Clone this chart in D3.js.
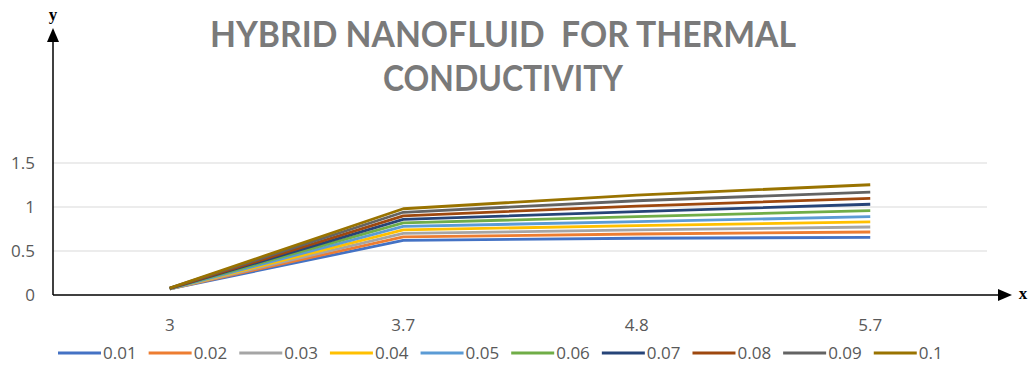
<!DOCTYPE html>
<html>
<head>
<meta charset="utf-8">
<script src="https://cdn.jsdelivr.net/npm/d3@7"></script>
<style>
  html, body { margin: 0; padding: 0; background: #fff; }
  svg { display: block; }
  .title { white-space: pre; }
</style>
</head>
<body>
<svg id="chart" width="1036" height="373"></svg>
<script>
// Categories along the x axis
const categories = ["3", "3.7", "4.8", "5.7"];
// Series names (legend labels)
const seriesNames = ["0.01", "0.02", "0.03", "0.04", "0.05", "0.06", "0.07", "0.08", "0.09", "0.1"];
// Values of each series at each category
const s001 = [0.07, 0.62, 0.645, 0.655];
const s002 = [0.07, 0.66, 0.693, 0.716];
const s003 = [0.07, 0.70, 0.739, 0.773];
const s004 = [0.07, 0.74, 0.788, 0.830];
const s005 = [0.07, 0.78, 0.833, 0.890];
const s006 = [0.075, 0.82, 0.890, 0.958];
const s007 = [0.075, 0.86, 0.947, 1.031];
const s008 = [0.075, 0.90, 1.011, 1.099];
const s009 = [0.08, 0.94, 1.071, 1.170];
const s010 = [0.08, 0.98, 1.136, 1.253];
const seriesValues = [s001, s002, s003, s004, s005, s006, s007, s008, s009, s010];
// Y axis tick labels
const yTicks = [0, 0.5, 1, 1.5];
const titleLines = ["HYBRID NANOFLUID  FOR THERMAL", "CONDUCTIVITY"];

const colors = ["#4472C4", "#ED7D31", "#A5A5A5", "#FFC000", "#5B9BD5",
                "#70AD47", "#264478", "#9E480E", "#636363", "#997300"];

const svg = d3.select("#chart");
const left = 53, right = 987, zeroY = 295;

const x = d3.scalePoint().domain(categories).range([left, right]).padding(0.5);
const y = d3.scaleLinear().domain([0, 1.5]).range([zeroY, 163]);

// Title
svg.append("g").selectAll("text").data(titleLines).join("text")
  .attr("class", "title")
  .attr("x", 503)
  .attr("y", (d, i) => 47 + i * 44)
  .attr("text-anchor", "middle")
  .attr("font-family", "Lato, 'Open Sans', sans-serif")
  .attr("font-weight", "bold")
  .attr("font-size", 37)
  .attr("fill", "#7a7a7a")
  .attr("textLength", (d, i) => i === 0 ? 586 : 240)
  .attr("lengthAdjust", "spacingAndGlyphs")
  .text(d => d);

// Gridlines
svg.append("g").selectAll("line").data(yTicks.filter(t => t > 0)).join("line")
  .attr("x1", left).attr("x2", right)
  .attr("y1", d => y(d)).attr("y2", d => y(d))
  .attr("stroke", "#d9d9d9").attr("stroke-width", 1.2);

// Y tick labels
svg.append("g").selectAll("text").data(yTicks).join("text")
  .attr("x", 35).attr("y", d => y(d) + 6)
  .attr("text-anchor", "end")
  .attr("font-family", "'Open Sans', sans-serif")
  .attr("font-size", 17)
  .attr("fill", "#595959")
  .text(d => d);

// X tick labels
svg.append("g").selectAll("text").data(categories).join("text")
  .attr("x", d => x(d)).attr("y", 331)
  .attr("text-anchor", "middle")
  .attr("font-family", "'Liberation Sans Narrow', 'Open Sans', sans-serif")
  .attr("font-size", 17)
  .attr("fill", "#595959")
  .text(d => d);

// Series lines
const line = d3.line().x((d, i) => x(categories[i])).y(d => y(d));
svg.append("g").selectAll("path").data(seriesValues).join("path")
  .attr("d", d => line(d))
  .attr("fill", "none")
  .attr("stroke", (d, i) => colors[i])
  .attr("stroke-width", 2.8)
  .attr("stroke-linejoin", "round");

// Axes with arrowheads
svg.append("line").attr("x1", left).attr("x2", left).attr("y1", zeroY).attr("y2", 40)
  .attr("stroke", "#000").attr("stroke-width", 1.5);
svg.append("path").attr("d", `M${left - 6},42 L${left},28 L${left + 6},42 Z`).attr("fill", "#000");
svg.append("line").attr("x1", left).attr("x2", 1000).attr("y1", zeroY).attr("y2", zeroY)
  .attr("stroke", "#000").attr("stroke-width", 1.5);
svg.append("path").attr("d", `M998,${zeroY - 6} L1012,${zeroY} L998,${zeroY + 6} Z`).attr("fill", "#000");

svg.append("text").attr("x", 53).attr("y", 20).attr("text-anchor", "middle")
  .attr("font-family", "'Liberation Serif', serif").attr("font-weight", "bold")
  .attr("font-size", 17).text("y");
svg.append("text").attr("x", 1023).attr("y", 299).attr("text-anchor", "middle")
  .attr("font-family", "'Liberation Serif', serif").attr("font-weight", "bold")
  .attr("font-size", 17).text("x");

// Legend
const legend = svg.append("g");
let lx = 58;
seriesNames.forEach((name, i) => {
  const g = legend.append("g");
  g.append("line").attr("x1", lx).attr("x2", lx + 43).attr("y1", 353).attr("y2", 353)
    .attr("stroke", colors[i]).attr("stroke-width", 3);
  const t = g.append("text").attr("x", lx + 45).attr("y", 359)
    .attr("font-family", "'Open Sans', sans-serif").attr("font-size", 17)
    .attr("fill", "#595959").text(name);
  lx += 45 + t.node().getComputedTextLength() + 12;
});
</script>
</body>
</html>
